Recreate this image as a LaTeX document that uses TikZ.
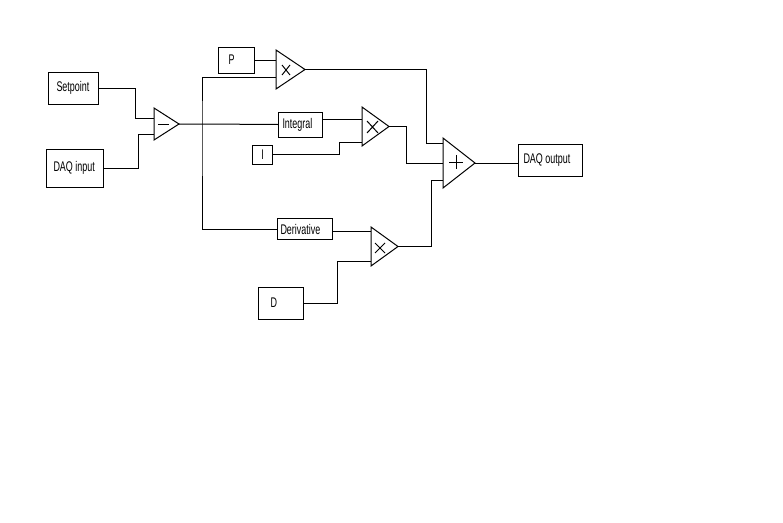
\documentclass[tikz,border=0pt]{standalone}
\usepackage{fontspec}
\newfontfamily\boxfont[FakeStretch=0.64]{Liberation Sans}
\usepackage{tikz}
\usetikzlibrary{arrows.meta}

\tikzset{
  blk/.style={draw, line width=1pt, minimum height=#1, align=left, inner ysep=0pt,
    font=\boxfont\fontsize{14}{16}\selectfont},
  wire/.style={line width=1pt},
  amp/.style={line width=1pt}
}

\begin{document}
\begin{tikzpicture}[x=1pt,y=-1pt]

\useasboundingbox[fill=white] (0,0) rectangle (783,522);

% boxes
\node[blk=32pt, anchor=west, inner xsep=8pt, text width=34pt] (setp) at (48,88) {\mbox{Setpoint}};
\node[blk=38pt, anchor=west, inner xsep=7pt, text width=43pt] (daqin) at (46,168) {\mbox{DAQ\kern2.5pt input}};
\node[blk=26pt, anchor=west, inner xsep=10pt, text width=16pt] (P) at (218,60) {P};
\node[blk=25pt, anchor=west, inner xsep=4pt, text width=36pt] (intg) at (278,124.5) {\mbox{Integral}};
\node[blk=19pt, anchor=west, inner xsep=7pt, text width=6pt, align=center] (I) at (252,154.5) {I};
\node[blk=21pt, anchor=west, inner xsep=3pt, text width=49pt] (deriv) at (277,229) {\mbox{Derivative}};
\node[blk=32pt, anchor=west, inner xsep=12pt, text width=21pt] (D) at (258,303) {D};
\node[blk=32pt, anchor=west, inner xsep=5pt, text width=54pt] (daqout) at (518,160) {\mbox{DAQ\kern2.5pt output}};

% subtractor
\draw[amp] (154,108) -- (179,124) -- (154,140) -- cycle;
\draw[amp] (158,124) -- (169,124);
\coordinate (sub-a) at (154,118);
\coordinate (sub-b) at (154,134);
\coordinate (sub-out) at (179,124);

% multipliers
\draw[amp] (276,50) -- (305,69.5) -- (276,89) -- cycle;
\draw[amp] (282,65) -- (290,75) (282,75) -- (290,65);
\coordinate (pmul-a) at (276,60);
\coordinate (pmul-b) at (276,77);
\coordinate (pmul-out) at (305,69.5);

\draw[amp] (362,107) -- (389,126.5) -- (362,146) -- cycle;
\draw[amp] (367,121) -- (378,133) (367,133) -- (378,121);
\coordinate (imul-a) at (362,119);
\coordinate (imul-b) at (362,142);
\coordinate (imul-out) at (389,126.5);

\draw[amp] (371,227) -- (398,246.5) -- (371,266) -- cycle;
\draw[amp] (375,243) -- (385,253) (375,253) -- (385,243);
\coordinate (dmul-a) at (371,231);
\coordinate (dmul-b) at (371,261);
\coordinate (dmul-out) at (398,246.5);

% summer
\draw[amp] (443,138) -- (475,163) -- (443,188) -- cycle;
\draw[amp] (449,162) -- (463,162) (456,155) -- (456,169);
\coordinate (sum-a) at (443,143);
\coordinate (sum-b) at (443,163);
\coordinate (sum-c) at (443,180);
\coordinate (sum-out) at (475,163);

\coordinate (branch) at (202,124);

% wiring
\draw[wire] (setp.east) -- ++(36,0) |- (sub-a);
\draw[wire] (daqin.east) -- ++(34,0) |- (sub-b);
\draw[wire] (sub-out) -- (branch) -- (intg.west);
\draw[wire] (pmul-b) -| (branch) |- (deriv.west);
\draw[wire] (P.east) -- (pmul-a);
\draw[wire] (pmul-out) -- ++(121,0) |- (sum-a);
\draw[wire] (intg.east |- imul-a) -- (imul-a);
\draw[wire] (I.east) -- ++(66,0) |- (imul-b);
\draw[wire] (imul-out) -- ++(17,0) |- (sum-b);
\draw[wire] (deriv.east |- dmul-a) -- (dmul-a);
\draw[wire] (D.east) -- ++(33,0) |- (dmul-b);
\draw[wire] (dmul-out) -- ++(33,0) |- (sum-c);
\draw[wire] (sum-out) -- (sum-out -| daqout.west);

\end{tikzpicture}
\end{document}
